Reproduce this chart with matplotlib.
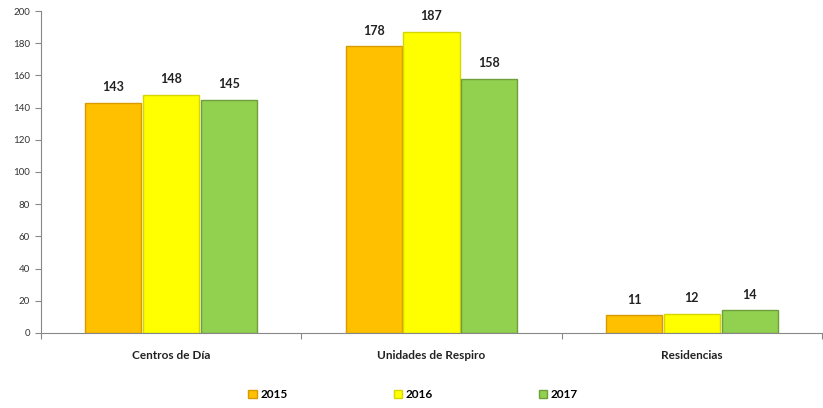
import numpy as np
import matplotlib.pyplot as plt

plt.rcParams['font.family'] = ['Lato', 'DejaVu Sans']

categorias = ['Centros de Día', 'Unidades de Respiro', 'Residencias']
anios = ['2015', '2016', '2017']
v2015 = [143, 178, 11]
v2016 = [148, 187, 12]
v2017 = [145, 158, 14]

colores = ['#FFC000', '#FFFF00', '#92D050']
bordes = ['#D99A00', '#D6D600', '#6E9F3A']

fig = plt.figure(figsize=(8.23, 4.08), dpi=100)
ax = fig.add_axes([0.0498, 0.184, 0.949, 0.789])

x = np.arange(len(categorias))
ancho = 0.222
series = [v2015, v2016, v2017]
barras = []
for i, vals in enumerate(series):
    pos = x + (i - 1) * ancho
    b = ax.bar(pos, vals, width=ancho * 0.97, color=colores[i], edgecolor=bordes[i],
               linewidth=1.0, label=anios[i], zorder=2)
    barras.append(b)
    for px, v in zip(pos, vals):
        ax.annotate(str(v), (px, v), xytext=(0, 7), textcoords='offset points',
                    ha='center', va='bottom', fontsize=9, fontweight='bold',
                    color='#222222')

ax.set_ylim(0, 200)
ax.set_yticks(range(0, 201, 20))
ax.set_xlim(-0.5, 2.5)
ax.set_xticks([-0.5, 0.5, 1.5, 2.5])
ax.set_xticklabels([])
ax.set_xticks(x, minor=True)
ax.set_xticklabels(categorias, minor=True)
ax.tick_params(axis='x', which='minor', length=0, pad=12, labelsize=8.5)
ax.tick_params(axis='x', which='major', length=4, color='#888888')
ax.tick_params(axis='y', labelsize=7, length=4, color='#888888', pad=4,
               labelcolor='#333333')
for lab in ax.get_xticklabels(minor=True):
    lab.set_fontweight('bold')
    lab.set_color('#222222')

for s in ['top', 'right']:
    ax.spines[s].set_visible(False)
for s in ['left', 'bottom']:
    ax.spines[s].set_color('#888888')

fig.legend(handles=barras, labels=anios, loc='center', bbox_to_anchor=(0.502, 0.032),
           ncol=3, frameon=False, handlelength=0.7, handleheight=0.7,
           handletextpad=0.3, columnspacing=9.0, prop={'weight': 'bold', 'size': 8.5})

fig.savefig('out.png', dpi=100)
